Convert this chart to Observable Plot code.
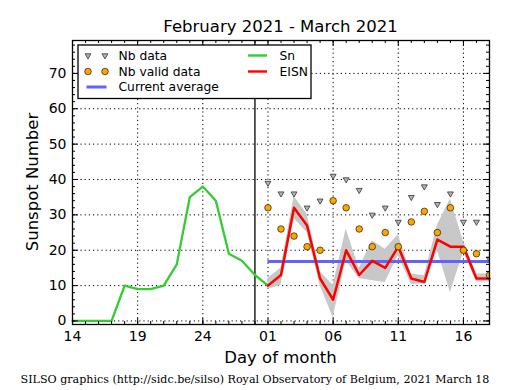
<!DOCTYPE html>
<html><head><meta charset="utf-8">
<script src="https://cdn.jsdelivr.net/npm/d3@7"></script>
<script src="https://cdn.jsdelivr.net/npm/@observablehq/plot@0.6"></script>
<style>html,body{margin:0;padding:0;background:#fff} svg{display:block}</style>
</head><body><div id="chart"></div>
<script>
// ---- data ----
const snDates = ["2021-02-14","2021-02-15","2021-02-16","2021-02-17","2021-02-18","2021-02-19","2021-02-20","2021-02-21","2021-02-22","2021-02-23","2021-02-24","2021-02-25","2021-02-26","2021-02-27","2021-02-28","2021-03-01"];
const snValues = [0,0,0,0,10,9,9,10,16,35,38,34,19,17,13,10];

const eisnDates = ["2021-03-01","2021-03-02","2021-03-03","2021-03-04","2021-03-05","2021-03-06","2021-03-07","2021-03-08","2021-03-09","2021-03-10","2021-03-11","2021-03-12","2021-03-13","2021-03-14","2021-03-15","2021-03-16","2021-03-17","2021-03-18"];
const eisnValues = [10,13,32,27,12,6,20,13,17,15,21,12,11,23,21,21,12,12];
const eisnLow  = [9,10,29,25,10,1,17,12,11.4,10.9,18.5,10.3,10.5,20,8,19.4,11,11];
const eisnHigh = [12,15,35.2,30.2,14,10,26,14.8,22.7,20.3,24.4,13.3,12.8,27,34.5,22.5,13.3,13.3];
const nbData   = [39,36,36,32,34,41,40,37,30,32,28,35,38,33,36,28,28,17.5];
const nbValid  = [32,26,24,21,20,34,32,26,21,25,21,28,31,25,32,20,19,13];

const currentAverage = 16.8;
const averageSpan = ["2021-03-01","2021-03-18"];
const monthMarker = "2021-02-28";

const xDomain = ["2021-02-14","2021-03-18"];
const yDomain = [-1, 79.3];
const xMajorTicks = ["2021-02-14","2021-02-19","2021-02-24","2021-03-01","2021-03-06","2021-03-11","2021-03-16"];
const yMajorTicks = [0,10,20,30,40,50,60,70];

const titleText = "February 2021 - March 2021";
const xLabel = "Day of month";
const yLabel = "Sunspot Number";
const captionText = "SILSO graphics (http://sidc.be/silso) Royal Observatory of Belgium, 2021 March 18";
const legendLeft = [["Nb data","tri"],["Nb valid data","dot"],["Current average","avg"]];
const legendRight = [["Sn","sn"],["EISN","eisn"]];

// ---- build ----
const parse = d3.utcParse("%Y-%m-%d");
const sn = snDates.map((d,i)=>({date: parse(d), value: snValues[i]}));
const eisn = eisnDates.map((d,i)=>({date: parse(d), value: eisnValues[i], lo: eisnLow[i], hi: eisnHigh[i], nb: nbData[i], nbv: nbValid[i]}));
const xMaj = xMajorTicks.map(parse);
const xMin = d3.utcDay.range(parse(xDomain[0]), d3.utcDay.offset(parse(xDomain[1]),1));
const yMin = d3.range(0, 80, 2);

const W = 515, H = 390, mL = 72, mR = 26, mT = 40, mB = 66;
const pw = W - mL - mR, ph = H - mT - mB;

const colors = {sn: "#33cc33", eisn: "#ff0000", avg: "#6262ff", band: "#c8c8c8", dot: "#ffa500", tri: "#b4b4b4"};

const plot = Plot.plot({
  width: W, height: H,
  marginLeft: mL, marginRight: mR, marginTop: mT, marginBottom: mB,
  style: {fontFamily: "DejaVu Sans", fontSize: "14px", background: "white", color: "black", overflow: "visible"},
  x: {type: "utc", domain: xDomain.map(parse), axis: null},
  y: {domain: yDomain, axis: null},
  marks: [
    Plot.gridX(xMaj, {stroke: "black", strokeOpacity: 1, strokeDasharray: "1.2,3"}),
    Plot.gridY(yMajorTicks, {stroke: "black", strokeOpacity: 1, strokeDasharray: "1.2,3"}),
    Plot.areaY(eisn, {x: "date", y1: "lo", y2: "hi", fill: colors.band, clip: true}),
    Plot.ruleY([currentAverage], {x1: parse(averageSpan[0]), x2: parse(averageSpan[1]), stroke: colors.avg, strokeWidth: 3}),
    Plot.ruleX([parse(monthMarker)], {stroke: "black", strokeWidth: 1.3}),
    Plot.lineY(sn, {x: "date", y: "value", stroke: colors.sn, strokeWidth: 2.3}),
    Plot.lineY(eisn, {x: "date", y: "value", stroke: colors.eisn, strokeWidth: 2.5}),
    Plot.dot(eisn, {x: "date", y: "nb", symbol: "triangle", rotate: 180, r: 2.2, fill: colors.tri, stroke: "#333", strokeWidth: 0.8, clip: true}),
    Plot.dot(eisn, {x: "date", y: "nbv", r: 3.3, fill: colors.dot, stroke: "black", strokeWidth: 0.6, clip: true}),
    // major ticks (inward, all four sides)
    Plot.tickX(xMaj, {x: d => d, insetTop: ph - 6, stroke: "black"}),
    Plot.tickX(xMaj, {x: d => d, insetBottom: ph - 6, stroke: "black"}),
    Plot.tickX(xMin, {x: d => d, insetTop: ph - 3, stroke: "black"}),
    Plot.tickX(xMin, {x: d => d, insetBottom: ph - 3, stroke: "black"}),
    Plot.tickY(yMajorTicks, {y: d => d, insetRight: pw - 6, stroke: "black"}),
    Plot.tickY(yMajorTicks, {y: d => d, insetLeft: pw - 6, stroke: "black"}),
    Plot.tickY(yMin, {y: d => d, insetRight: pw - 3, stroke: "black"}),
    Plot.tickY(yMin, {y: d => d, insetLeft: pw - 3, stroke: "black"}),
    Plot.axisX(xMaj, {anchor: "bottom", tickSize: 0, tickPadding: 7, tickFormat: d3.utcFormat("%d"), fontSize: 14, label: null}),
    Plot.axisY(yMajorTicks, {anchor: "left", tickSize: 0, tickPadding: 6, fontSize: 14, label: null}),
    Plot.frame({stroke: "black", strokeWidth: 1.3})
  ]
});

const svg = d3.select(plot);
// title
svg.append("text").attr("x", mL + pw/2).attr("y", 31.5).attr("text-anchor","middle")
  .attr("font-family","DejaVu Sans").attr("font-size", 16.5).attr("fill","black").text(titleText);
// x label
svg.append("text").attr("x", mL + pw/2).attr("y", 362.5).attr("text-anchor","middle")
  .attr("font-family","DejaVu Sans").attr("font-size", 16.5).attr("fill","black").text(xLabel);
// y label
svg.append("text").attr("transform", `translate(38,${mT + ph/2}) rotate(-90)`).attr("text-anchor","middle")
  .attr("font-family","DejaVu Sans").attr("font-size", 16.5).attr("fill","black").text(yLabel);
// caption
svg.append("text").attr("x", 255).attr("y", 382.5).attr("text-anchor","middle")
  .attr("font-family","DejaVu Serif").attr("font-size", 11.1).attr("fill","black").text(captionText);

// legend
const lg = svg.append("g").attr("font-family","DejaVu Sans").attr("font-size", 12.3).attr("text-anchor","start");
lg.append("rect").attr("x", 78).attr("y", 45).attr("width", 233).attr("height", 53.5)
  .attr("fill","white").attr("stroke","black").attr("stroke-width",1.3);
const rowY = [55.5, 71.5, 87];
legendLeft.forEach(([label, kind], i) => {
  const y = rowY[i];
  if (kind === "tri") {
    [88, 105].forEach(x => lg.append("path").attr("d", d3.symbol(d3.symbolTriangle, Math.PI*2.2*2.2)()).attr("transform", `translate(${x},${y}) rotate(180)`)
      .attr("fill", colors.tri).attr("stroke","#333").attr("stroke-width",0.8));
  } else if (kind === "dot") {
    [88, 105].forEach(x => lg.append("circle").attr("cx", x).attr("cy", y).attr("r", 3.3)
      .attr("fill", colors.dot).attr("stroke","black").attr("stroke-width",0.6));
  } else {
    lg.append("line").attr("x1", 86.5).attr("x2", 106.5).attr("y1", y).attr("y2", y).attr("stroke", colors.avg).attr("stroke-width", 3);
  }
  lg.append("text").attr("x", 118.5).attr("y", y).attr("dy","0.36em").attr("text-anchor","start").attr("fill","black").text(label);
});
legendRight.forEach(([label, kind], i) => {
  const y = rowY[i];
  lg.append("line").attr("x1", 248).attr("x2", 267).attr("y1", y).attr("y2", y).attr("stroke", colors[kind]).attr("stroke-width", 2.4);
  lg.append("text").attr("x", 279.5).attr("y", y).attr("dy","0.36em").attr("text-anchor","start").attr("fill","black").text(label);
});

document.getElementById("chart").appendChild(plot);
</script>
</body></html>
